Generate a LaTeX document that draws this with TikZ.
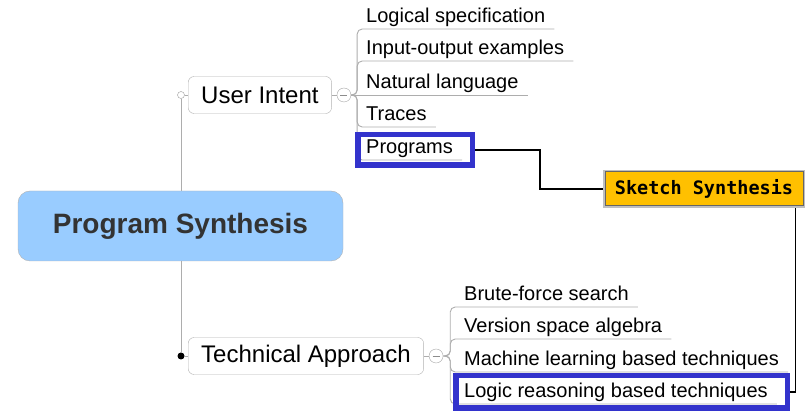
\documentclass[tikz,border=0pt]{standalone}
\usepackage{fontspec}
\setmainfont{Liberation Sans}
\newfontfamily\sketchfont{DejaVu Sans Mono}
\usepackage{xcolor}
\usetikzlibrary{positioning}
\usetikzlibrary{backgrounds}
\definecolor{rootblue}{RGB}{153,204,255}
\definecolor{markblue}{RGB}{51,51,204}
\definecolor{sketchgold}{RGB}{255,192,0}
\tikzset{mymap/.style={x=1pt, y=-1pt,
root/.style={draw=black!30, fill=rootblue, rounded corners=12pt, minimum width=325pt, minimum height=70pt, font=\fontsize{28}{32}\selectfont\bfseries, text=black!80},
topic/.style={draw=black!30, fill=white, rounded corners=6pt, minimum height=37pt, inner xsep=13pt, font=\fontsize{24}{28}\selectfont},
leaf/.style={anchor=south west, inner xsep=9pt, inner ysep=1pt, text height=15pt, text depth=5pt, font=\fontsize{20}{24}\selectfont},
branch/.style={draw=black!32, line width=0.9pt, rounded corners=5pt},
link/.style={draw=black, line width=1.3pt}}}

\begin{document}
\begin{tikzpicture}[mymap,
	minus/.style={circle, draw=black!35, fill=white, minimum size=14pt, inner sep=0pt,
		path picture={\draw[black!45, line width=0.8pt] ([xshift=-3.5pt]path picture bounding box.center) -- ([xshift=3.5pt]path picture bounding box.center);}},
	opendot/.style={circle, draw=black!40, fill=white, minimum size=7pt, inner sep=0pt},
	fulldot/.style={circle, fill=black, minimum size=7pt, inner sep=0pt},
	markbox/.style={draw=markblue, line width=5.5pt, inner sep=0pt},
	sketchbox/.style={fill=sketchgold, draw=black!60, line width=1pt, preaction={draw=black!25, line width=4.5pt},
		minimum width=198pt, minimum height=34pt, font=\sketchfont\fontsize{18.5}{22}\selectfont\bfseries}]
	\useasboundingbox (0,0) rectangle (807,411);
	\node[root] (root) at (180.5,226) {Program Synthesis};
	\node[opendot] (uidot) at (181,95) {};
	\node[fulldot] (tadot) at (181,356) {};
	\node[topic, anchor=west] (ui) at (188,95) {User Intent};
	\node[topic, anchor=west] (ta) at (188,356) {Technical Approach};
	\node[minus, right=5pt of ui] (uimin) {};
	\node[minus, right=5pt of ta] (tamin) {};
	\node[leaf] (spec) at (357,29) {Logical specification};
	\node[leaf] (inout) at (357,61) {Input-output examples};
	\node[leaf] (natlang) at (357,95) {Natural language};
	\node[leaf] (traces) at (357,127) {Traces};
	\node[leaf] (progs) at (357,160) {Programs};
	\node[leaf] (brute) at (455,307) {Brute-force search};
	\node[leaf] (vsa) at (455,339) {Version space algebra};
	\node[leaf] (mlearn) at (455,372) {Machine learning based techniques};
	\node[leaf] (logic) at (455,404) {Logic reasoning based techniques};
	\node[markbox, minimum width=114.5pt, minimum height=30.5pt] (progmark) at (415,150) {};
	\node[markbox, minimum width=331.5pt, minimum height=32.5pt] (logicmark) at (621.5,392) {};
	\node[sketchbox] (sketch) at (704,189) {Sketch Synthesis};
	\begin{scope}[on background layer]
		\draw[branch] (uidot) -- (tadot);
		\draw[branch] (uidot) -- (ui);
		\draw[branch] (tadot) -- (ta);
		\draw[branch] (ui) -- (uimin);
		\draw[branch] (ta) -- (tamin);
		\draw[branch] (uimin.east) -- (natlang.south east);
		\foreach \leaf in {spec,inout,traces,progs}
			\draw[branch] (uimin.east) -- ++(6,0) |- (\leaf.south east);
		\foreach \leaf in {brute,vsa,mlearn,logic}
			\draw[branch] (tamin.east) -- ++(7,0) |- (\leaf.south east);
		\draw[link] (progmark.east) -- ++(65,0) |- (sketch.west);
		\draw[link] ([xshift=-8pt]sketch.south east) |- (logicmark.east);
	\end{scope}
\end{tikzpicture}
\end{document}
